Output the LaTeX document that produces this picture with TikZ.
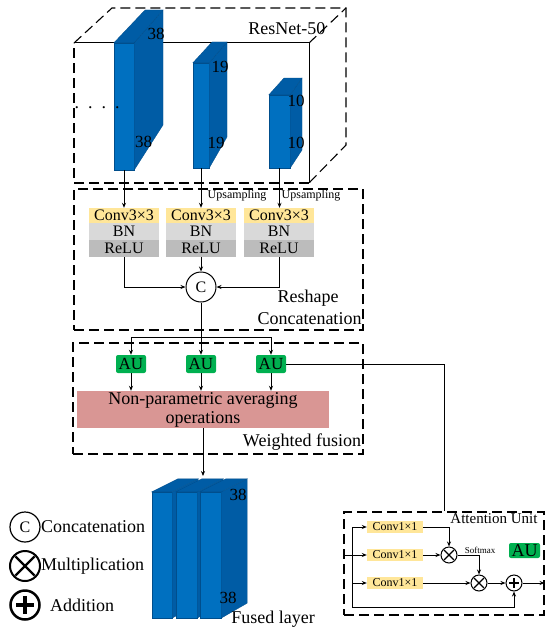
\documentclass[tikz,border=0pt]{standalone}
\usepackage{fontspec}
\setmainfont{Liberation Serif}
\usetikzlibrary{arrows.meta,calc}
\definecolor{bfront}{RGB}{0,112,192}
\definecolor{bside}{RGB}{0,92,165}
\definecolor{bedge}{RGB}{0,78,140}
\definecolor{convy}{RGB}{255,230,153}
\definecolor{bngray}{RGB}{217,217,217}
\definecolor{relugray}{RGB}{188,188,188}
\definecolor{pinkbox}{RGB}{217,150,148}
\definecolor{augreen}{RGB}{0,176,80}
\begin{document}
\begin{tikzpicture}[x=1pt,y=-1pt,
  dbox/.style={draw,line width=1.1pt,dash pattern=on 10pt off 5pt,inner sep=0},
  arr/.style={-{Stealth[length=5pt,width=4pt]},line width=0.8pt},
  ln/.style={line width=0.8pt},
  front/.style={fill=bfront,draw=bedge,line width=0.3pt,inner sep=0},
  sidef/.style={fill=bside,draw=bedge,line width=0.3pt},
  big/.style={font=\fontsize{18}{19}\selectfont},
  num/.style={font=\fontsize{17}{17}\selectfont,inner sep=0},
  rowbox/.style={inner sep=0,minimum width=70,font=\fontsize{16}{16}\selectfont},
  convbox/.style={rowbox,fill=convy,minimum height=15},
  bnbox/.style={rowbox,fill=bngray,minimum height=17},
  relubox/.style={rowbox,fill=relugray,minimum height=17},
  aubox/.style={fill=augreen,rounded corners=2pt,inner sep=0,minimum width=30,minimum height=18,font=\fontsize{17}{17}\selectfont},
  smallconv/.style={fill=convy,inner sep=0,minimum width=56,minimum height=12,font=\fontsize{12}{12}\selectfont},
  opc/.style={circle,draw,line width=1pt,inner sep=0,minimum size=16},
  small/.style={font=\fontsize{12}{12}\selectfont,inner sep=0}
]
\useasboundingbox (0,0) rectangle (550,634);
\fill[white] (0,0) rectangle (550,634);

% ResNet box
\draw[line width=1pt] (74,43) -- (309,43) -- (309,183);
\draw[dbox] (309,183) -- (74,183) -- (74,43);
\draw[dbox] (74,43) -- (112,8) -- (346,8) -- (346,145) -- (309,183);
\draw[dbox] (309,43) -- (346,8);
\node[big,anchor=east] (resnet) at (329,29) {ResNet-50};

% feature blocks
\node[front,minimum width=20,minimum height=127] (b1) at (124,106.5) {};
\filldraw[sidef] (b1.north east) -- (163,10) -- (163,125) -- (b1.south east) -- cycle;
\filldraw[sidef] (b1.north west) -- (b1.north east) -- (163,10) -- (145,10) -- cycle;
\node[front,minimum width=16,minimum height=105] (b2) at (201,115.5) {};
\filldraw[sidef] (b2.north east) -- (227,42) -- (227,137) -- (b2.south east) -- cycle;
\filldraw[sidef] (b2.north west) -- (b2.north east) -- (227,42) -- (212,42) -- cycle;
\node[front,minimum width=21,minimum height=73] (b3) at (279.5,131.5) {};
\filldraw[sidef] (b3.north east) -- (302,78) -- (302,150) -- (b3.south east) -- cycle;
\filldraw[sidef] (b3.north west) -- (b3.north east) -- (302,78) -- (284,78) -- cycle;
\node[num] (n1a) at (156,34) {38};
\node[num] (n1b) at (143.5,142) {38};
\node[num] (n2a) at (220,67) {19};
\node[num] (n2b) at (216,143) {19};
\node[num] (n3a) at (296,101) {10};
\node[num] (n3b) at (296,143) {10};
\node[big,anchor=base] (dots) at (97,108) {.\ \ .\ \ .\ \ .};

% Reshape box
\node[dbox,minimum width=289,minimum height=141] (resh) at (218.5,259.5) {};
\foreach \i/\x in {1/124,2/201,3/279}{
  \node[convbox] (conv\i) at (\x,215.5) {Conv3×3};
  \node[bnbox] (bn\i) at (\x,231.5) {BN};
  \node[relubox] (relu\i) at (\x,248.5) {ReLU};
}
\node[small] (up1) at (237,196) {Upsampling};
\node[small] (up2) at (311,196) {Upsampling};
\draw[arr] (b1.south) -- (b1.south |- conv1.north);
\draw[arr] (b2.south) -- (b2.south |- conv2.north);
\draw[arr] (b3.south) -- (b3.south |- conv3.north);
\node[circle,draw,line width=1pt,minimum size=30,inner sep=0,font=\fontsize{16}{16}\selectfont] (cc) at (201,287) {C};
\draw[arr] (relu1.south) |- (cc.west);
\draw[arr] (relu2.south) -- (cc.north);
\draw[arr] (relu3.south) |- (cc.east);
\node[big] (reshlab) at (308,298) {Reshape};
\node[big] (conclab) at (309.5,319) {Concatenation};

% Weighted fusion box
\node[dbox,minimum width=290,minimum height=111] (wf) at (218,398.5) {};
\node[aubox] (au1) at (131,364) {AU};
\node[aubox] (au2) at (201,364) {AU};
\node[aubox] (au3) at (271,364) {AU};
\coordinate (split) at (201,337);
\draw[ln] (cc.south) -- (split);
\draw[arr] (split) -| (au1.north);
\draw[arr] (split) -| (au3.north);
\draw[arr] (split) -- (au2.north);
\node[fill=pinkbox,inner sep=0,minimum width=252,minimum height=37,align=center,big] (npa) at (203,409.5) {Non-parametric averaging\\operations};
\draw[arr] (au1.south) -- (au1.south |- npa.north);
\draw[arr] (au2.south) -- (au2.south |- npa.north);
\draw[arr] (au3.south) -- (au3.south |- npa.north);
\node[big] (wflab) at (302,442) {Weighted fusion};

% Fused layer
\coordinate (ftop) at (203,476);
\draw[arr] (npa.south) -- (ftop);
\foreach \i/\x/\w in {1/162/20,2/186.5/21,3/210.5/21}{
  \node[front,minimum width=\w,minimum height=126] (f\i) at (\x,555) {};
  \filldraw[sidef] (f\i.north east) -- ++(26,-13) -- ($(f\i.south east)+(26,-15)$) -- (f\i.south east) -- cycle;
  \filldraw[sidef] (f\i.north west) -- (f\i.north east) -- ++(26,-13) -- ($(f\i.north west)+(26,-13)$) -- cycle;
}
\node[num] (fn1) at (238,495) {38};
\node[num] (fn2) at (228,598) {38};
\node[big] (fused) at (273,619) {Fused layer};

% Legend
\node[circle,draw,line width=1.2pt,minimum size=30,inner sep=0,font=\fontsize{16}{16}\selectfont] (legc) at (25,527) {C};
\node[big,anchor=west,inner sep=0] (legct) at (41,527) {Concatenation};
\node[circle,draw,line width=2pt,minimum size=30,inner sep=0] (legm) at (25,566) {};
\draw[line width=2.2pt,shorten >=2.5pt,shorten <=2.5pt] (legm.north east) -- (legm.south west);
\draw[line width=2.2pt,shorten >=2.5pt,shorten <=2.5pt] (legm.north west) -- (legm.south east);
\node[big,anchor=west,inner sep=0] (legmt) at (41,566) {Multiplication};
\node[circle,draw,line width=2.5pt,minimum size=29,inner sep=0] (legp) at (25,605) {};
\draw[line width=4.5pt] ($(legp.center)+(-9,0)$) -- ($(legp.center)+(9,0)$);
\draw[line width=4.5pt] ($(legp.center)+(0,-9)$) -- ($(legp.center)+(0,9)$);
\node[big,anchor=west,inner sep=0] (legpt) at (50,605) {Addition};

% Attention unit
\node[dbox,minimum width=200,minimum height=103] (att) at (444,563.5) {};
\draw[ln] (au3.east) -| (att.north);
\node[font=\fontsize{15}{15}\selectfont,inner sep=0] (attlab) at (494,519) {Attention Unit};
\node[aubox,minimum width=31,minimum height=15,font=\fontsize{18}{18}\selectfont] (au4) at (524.5,550.5) {AU};
\node[smallconv] (c11) at (395,527) {Conv1×1};
\node[smallconv] (c12) at (395,555) {Conv1×1};
\node[smallconv] (c13) at (395,583) {Conv1×1};
\node[opc] (m1) at (449,555) {};
\node[opc] (m2) at (479,583) {};
\node[opc] (p1) at (514,583) {};
\foreach \m in {m1,m2}{
  \draw[line width=1.3pt,shorten >=1.5pt,shorten <=1.5pt] (\m.north east) -- (\m.south west);
  \draw[line width=1.3pt,shorten >=1.5pt,shorten <=1.5pt] (\m.north west) -- (\m.south east);
}
\draw[line width=2.6pt] ($(p1.center)+(-5,0)$) -- ($(p1.center)+(5,0)$);
\draw[line width=2.6pt] ($(p1.center)+(0,-5)$) -- ($(p1.center)+(0,5)$);
\coordinate (ta) at (352,527);
\coordinate (tb) at (352,607);
\draw[arr] (att.west |- c12.west) -- (c12.west);
\draw[ln] (ta) -- (tb);
\draw[arr] (ta) -- (c11.west);
\draw[arr] (ta |- c13.west) -- (c13.west);
\draw[arr] (tb) -| (p1.south);
\draw[arr] (c11.east) -| (m1.north);
\draw[arr] (c12.east) -- (m1.west);
\draw[arr] (m1.east) -| (m2.north);
\node[font=\fontsize{9}{9}\selectfont,inner sep=0] (soft) at (480,550) {Softmax};
\draw[arr] (c13.east) -- (m2.west);
\draw[arr] (m2.east) -- (p1.west);
\draw[arr] (p1.east) -- (att.east |- p1.east);
\end{tikzpicture}
\end{document}
